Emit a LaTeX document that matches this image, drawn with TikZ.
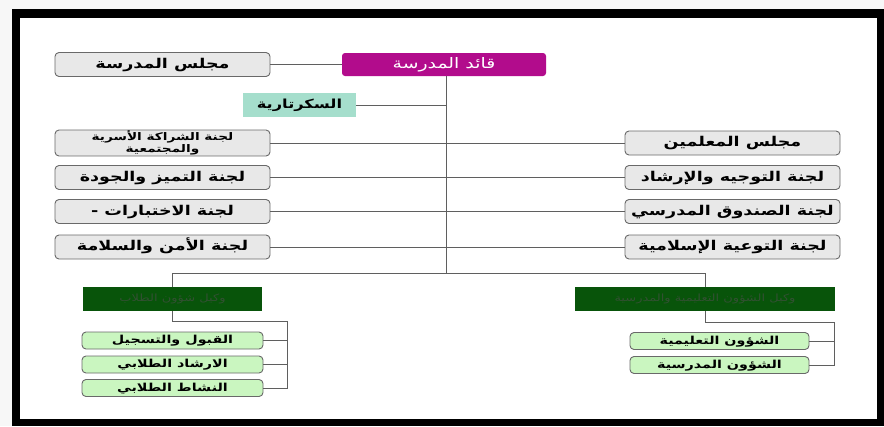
\documentclass[tikz,border=0pt]{standalone}
\usepackage{fontspec}
\newfontfamily\arabicfont[Script=Arabic,FakeStretch=1.3]{DejaVu Sans}
\TeXXeTstate=1
\newcommand{\ar}[1]{{\arabicfont\beginR #1\endR}}
\definecolor{qaidMag}{RGB}{178,12,140}
\definecolor{secTeal}{RGB}{165,222,204}
\definecolor{boxGray}{RGB}{232,232,232}
\definecolor{edgeGray}{RGB}{105,105,105}
\definecolor{darkGreen}{RGB}{8,84,10}
\definecolor{darkGreenText}{RGB}{50,80,50}
\definecolor{lightGreen}{RGB}{202,246,192}
\definecolor{lineGray}{RGB}{95,95,95}
\tikzset{
  grayboxbase/.style={rectangle, rounded corners=4pt, draw=edgeGray, fill=boxGray, line width=0.9pt,
    minimum width=215, minimum height=24, inner sep=1pt, align=center},
  graybox/.style={grayboxbase, text height=8pt, text depth=0.5pt,
    font=\bfseries\fontsize{13.5}{14}\selectfont},
  greenbox/.style={rectangle, rounded corners=4pt, draw=edgeGray, fill=lightGreen, line width=0.9pt,
    minimum height=17, inner sep=0pt, text height=6.5pt, text depth=0.5pt,
    font=\bfseries\fontsize{11}{12}\selectfont},
  headbox/.style={rectangle, fill=darkGreen, minimum height=24, inner sep=1pt,
    text height=6pt, text depth=0.5pt, text=darkGreenText, font=\fontsize{10}{11}\selectfont},
  link/.style={draw=lineGray, line width=0.8pt}
}
\begin{document}
\begin{tikzpicture}[x=1pt, y=-1pt]
  \useasboundingbox (0,0) rectangle (884,426);
  % Frame
  \fill[gray!6] (0,0) rectangle (884,426);
  \fill[black] (12,9) rectangle (884,426);
  \fill[white] (20,18) rectangle (877,419);
  % Top
  \node (qaid) [rectangle, rounded corners=3pt, fill=qaidMag, minimum width=204, minimum height=23,
    text height=8pt, text depth=0.5pt, text=white, font=\fontsize{14.5}{15}\selectfont] at (444,64.5) {\ar{قائد المدرسة}};
  \node (majlis) [graybox] at (162.5,64.5) {\ar{مجلس المدرسة}};
  \node (sec) [rectangle, fill=secTeal, minimum width=113, minimum height=24, text height=7.5pt, text depth=0.5pt,
    font=\bfseries\fontsize{12.5}{13}\selectfont] at (299.5,105) {\ar{السكرتارية}};
  % Left committees
  \node (L1) [grayboxbase, font=\bfseries\fontsize{10.5}{11}\selectfont] at (162.5,143) {\ar{لجنة الشراكة الأسرية}\\[0.5pt]\ar{والمجتمعية}};
  \node (L2) [graybox] at (162.5,177.5) {\ar{لجنة التميز والجودة}};
  \node (L3) [graybox] at (162.5,211.5) {\ar{لجنة الاختبارات -}};
  \node (L4) [graybox] at (162.5,247) {\ar{لجنة الأمن والسلامة}};
  % Right committees
  \node (R1) [graybox] at (732.5,143) {\ar{مجلس المعلمين}};
  \node (R2) [graybox] at (732.5,177.5) {\ar{لجنة التوجيه والإرشاد}};
  \node (R3) [graybox] at (732.5,211.5) {\ar{لجنة الصندوق المدرسي}};
  \node (R4) [graybox] at (732.5,247) {\ar{لجنة التوعية الإسلامية}};
  % Deputies
  \node (wL) [headbox, minimum width=179] at (172.5,299) {\ar{وكيل شؤون الطلاب}};
  \node (wR) [headbox, minimum width=260] at (705,299) {\ar{وكيل الشؤون التعليمية والمدرسية}};
  \node (sL1) [greenbox, minimum width=181] at (172.5,340.5) {\ar{القبول والتسجيل}};
  \node (sL2) [greenbox, minimum width=181] at (172.5,364.5) {\ar{الارشاد الطلابي}};
  \node (sL3) [greenbox, minimum width=181] at (172.5,388) {\ar{النشاط الطلابي}};
  \node (sR1) [greenbox, minimum width=179] at (719.5,341) {\ar{الشؤون التعليمية}};
  \node (sR2) [greenbox, minimum width=179] at (719.5,365) {\ar{الشؤون المدرسية}};
  % Joints
  \coordinate (trunk) at (446,273);
  \coordinate (barL) at (172.5,273);
  \coordinate (barR) at (705,273);
  \coordinate (spineL) at (287,321);
  \coordinate (spineR) at (834,322);
  % Lines
  \draw[link] (majlis) -- (qaid);
  \draw[link] (qaid.south -| trunk) -- (trunk);
  \draw[link] (sec.east) -- (sec.east -| trunk);
  \draw[link] (L1) -- (R1);
  \draw[link] (L2) -- (R2);
  \draw[link] (L3) -- (R3);
  \draw[link] (L4) -- (R4);
  \draw[link] (barL) -- (barR);
  \draw[link] (barL) -- (wL.north);
  \draw[link] (barR) -- (wR.north);
  \draw[link] (wL.south) |- (spineL) |- (sL3.east);
  \draw[link] (sL1.east) -- (sL1.east -| spineL);
  \draw[link] (sL2.east) -- (sL2.east -| spineL);
  \draw[link] (wR.south) |- (spineR) |- (sR2.east);
  \draw[link] (sR1.east) -- (sR1.east -| spineR);
\end{tikzpicture}
\end{document}
